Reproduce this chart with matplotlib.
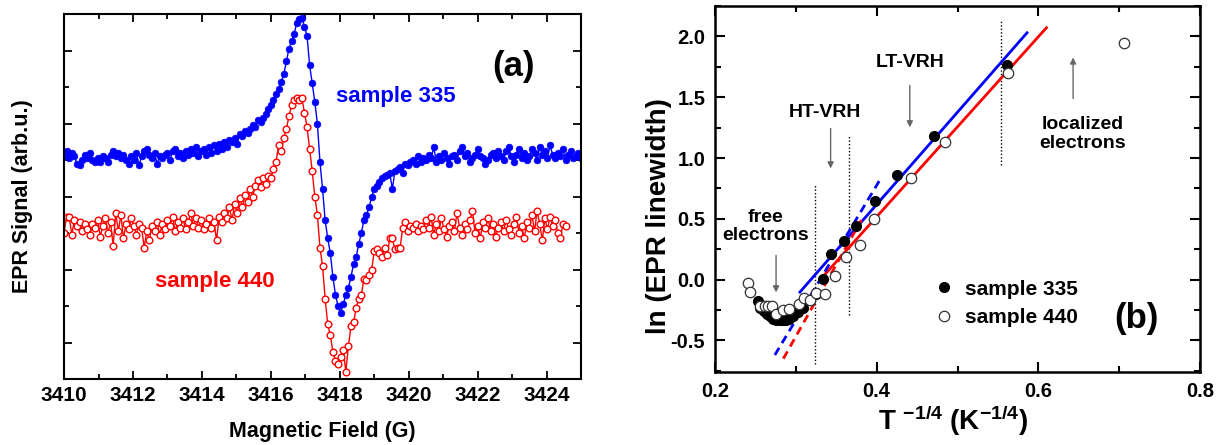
import numpy as np
import matplotlib
matplotlib.use('Agg')
import matplotlib.pyplot as plt
from matplotlib.ticker import FixedLocator, MultipleLocator, NullFormatter

plt.rcParams['font.family'] = ['Liberation Sans', 'DejaVu Sans']
plt.rcParams['font.weight'] = 'bold'
plt.rcParams['mathtext.fontset'] = 'custom'
plt.rcParams['mathtext.rm'] = 'Liberation Sans:bold'
plt.rcParams['mathtext.it'] = 'Liberation Sans:bold'
plt.rcParams['mathtext.bf'] = 'Liberation Sans:bold'
plt.rcParams['mathtext.default'] = 'rm'

# ---- (a) EPR spectra, field sweep from 3410 G in 0.075 G steps ----
field_start, field_step = 3410.0, 0.075

epr_335 = [
    6.15, 6.25, 6.05, 6.20, 6.10, 5.90, 5.85, 6.00, 6.15, 6.05,
    6.20, 6.00, 5.95, 6.05, 5.95, 6.10, 6.05, 5.95, 6.15, 6.25,
    6.10, 6.20, 6.05, 6.15, 6.00, 5.90, 6.10, 6.00, 6.20, 5.85,
    6.10, 6.25, 6.30, 6.15, 6.05, 6.20, 5.90, 6.10, 6.05, 6.15,
    6.20, 6.00, 6.25, 6.30, 6.10, 6.20, 6.05, 6.25, 6.15, 6.30,
    6.20, 6.35, 6.10, 6.25, 6.30, 6.15, 6.35, 6.20, 6.40, 6.25,
    6.45, 6.30, 6.50, 6.35, 6.55, 6.50, 6.60, 6.45, 6.70, 6.65,
    6.80, 6.75, 6.85, 6.95, 6.90, 7.10, 7.05, 7.15, 7.25, 7.40,
    7.50, 7.65, 7.80, 7.95, 8.15, 8.35, 8.70, 9.05, 9.25, 9.45,
    9.75, 9.85, 9.90, 9.65, 9.40, 8.60, 8.10, 7.60, 7.00, 5.95,
    5.20, 4.35, 3.85, 3.45, 2.80, 2.30, 2.00, 1.80, 2.05, 2.30,
    2.50, 2.80, 3.15, 3.35, 3.70, 4.00, 4.35, 4.50, 4.70, 5.00,
    5.20, 5.30, 5.40, 5.50, 5.55, 5.60, 5.65, 5.20, 5.70, 5.75,
    5.80, 5.65, 5.90, 5.85, 5.95, 6.00, 5.90, 6.10, 5.95, 6.05,
    6.00, 6.15, 6.05, 6.35, 5.95, 6.10, 6.00, 6.20, 6.05, 5.90,
    6.10, 6.15, 6.00, 6.25, 6.35, 6.10, 6.20, 5.95, 6.05, 6.15,
    6.30, 6.10, 6.05, 5.90, 6.00, 6.15, 6.20, 6.05, 6.25, 6.10,
    6.00, 6.25, 6.35, 6.10, 5.95, 6.15, 6.30, 6.05, 6.20, 6.00,
    6.10, 6.30, 6.20, 6.00, 6.35, 6.15, 6.25, 6.05, 6.40, 6.15,
    6.05, 6.20, 6.10, 6.30, 6.00, 6.15, 6.25, 6.05, 6.10, 6.20,
    6.05,
]

epr_440 = [
    4.00, 4.45, 4.45, 3.95, 4.35, 4.20, 4.30, 4.05, 4.25, 4.10,
    3.95, 4.25, 4.15, 4.35, 3.90, 4.20, 4.40, 4.00, 4.30, 3.65,
    4.55, 4.05, 4.50, 3.85, 4.25, 4.10, 4.40, 4.20, 3.95, 4.25,
    4.15, 3.60, 4.05, 3.80, 4.20, 4.05, 4.30, 3.95, 4.25, 4.10,
    4.35, 4.20, 4.45, 4.05, 4.30, 4.15, 4.40, 4.10, 4.30, 4.55,
    4.20, 4.40, 4.15, 4.35, 4.10, 4.25, 4.40, 4.15, 4.30, 3.80,
    4.45, 4.30, 4.55, 4.40, 4.70, 4.35, 4.80, 4.55, 4.95, 4.70,
    5.05, 4.85, 5.20, 5.00, 5.30, 5.45, 5.25, 5.50, 5.35, 5.55,
    5.50, 5.75, 5.95, 6.40, 6.25, 6.60, 6.85, 7.20, 7.50, 7.65,
    7.70, 7.65, 7.70, 7.30, 6.90, 6.30, 5.70, 5.00, 4.50, 3.60,
    3.10, 2.20, 1.50, 1.20, 0.75, 0.50, 0.40, 0.60, 0.80, 0.20,
    0.90, 1.45, 1.55, 1.95, 2.20, 2.30, 2.75, 2.70, 2.85, 3.00,
    3.50, 3.55, 3.45, 3.35, 3.60, 3.40, 3.85, 3.85, 3.55, 3.60,
    3.60, 4.15, 4.30, 4.05, 4.20, 4.15, 4.25, 4.05, 4.20, 4.10,
    4.35, 4.15, 4.45, 3.95, 4.25, 4.05, 4.40, 4.10, 3.90, 4.20,
    4.30, 4.05, 4.55, 4.15, 3.95, 4.25, 4.10, 4.35, 4.60, 4.00,
    4.20, 3.85, 4.30, 4.15, 4.40, 4.05, 4.25, 3.90, 4.15, 4.30,
    4.05, 4.35, 4.10, 3.95, 4.25, 4.45, 4.00, 4.20, 3.85, 4.30,
    4.15, 4.50, 4.05, 4.60, 4.25, 3.80, 4.40, 4.10, 4.45, 4.20,
    4.35, 4.00, 3.85, 4.25, 4.20,
]

field_335 = field_start + field_step * np.arange(len(epr_335))
field_440 = field_start + field_step * np.arange(len(epr_440))

# ---- (b) ln(linewidth) vs T^-1/4 ----
invT_335 = [0.253, 0.256, 0.260, 0.264, 0.268, 0.272, 0.276, 0.280, 0.284,
            0.288, 0.292, 0.297, 0.303, 0.309, 0.318, 0.325, 0.334, 0.344,
            0.360, 0.375, 0.398, 0.425, 0.471, 0.561]
lnw_335 = [-0.18, -0.23, -0.26, -0.28, -0.30, -0.32, -0.33, -0.335, -0.33,
           -0.33, -0.32, -0.30, -0.27, -0.23, -0.17, -0.115, 0.005, 0.213,
           0.317, 0.44, 0.643, 0.863, 1.18, 1.767]

invT_440 = [0.241, 0.243, 0.256, 0.262, 0.266, 0.271, 0.276, 0.284, 0.292,
            0.304, 0.310, 0.318, 0.325, 0.336, 0.348, 0.362, 0.379, 0.397,
            0.443, 0.485, 0.563, 0.706]
lnw_440 = [-0.03, -0.10, -0.22, -0.22, -0.22, -0.22, -0.285, -0.25, -0.245,
           -0.20, -0.155, -0.17, -0.11, -0.115, 0.03, 0.185, 0.285, 0.50,
           0.833, 1.131, 1.698, 1.945]

# linear fits: (slope, intercept, x_from, x_to)
fit_lt_335 = (7.59, -2.418, 0.305, 0.586)
fit_lt_440 = (7.40, -2.443, 0.330, 0.610)
fit_ht_335 = (11.08, -3.656, 0.274, 0.404)
fit_ht_440 = (11.81, -4.010, 0.2845, 0.381)

# region boundaries: (x, y_from, y_to)
boundaries = [(0.3237, -0.69, 0.775), (0.3658, -0.294, 1.186), (0.5538, 0.939, 2.13)]

BLUE = '#0000ff'
RED = '#ff0000'

fig = plt.figure(figsize=(12.29, 4.45), dpi=100)
ax1 = fig.add_axes([0.0521, 0.1483, 0.4207, 0.8202])
ax2 = fig.add_axes([0.5818, 0.1640, 0.3946, 0.8225])

# ---------- panel (a) ----------
ax1.plot(field_335, epr_335, '-o', color=BLUE, lw=1.0, ms=4.8, mec=BLUE, mfc=BLUE, mew=0.5)
ax1.plot(field_440, epr_440, '-o', color=RED, lw=1.0, ms=4.8, mec=RED, mfc='white', mew=1.0)
ax1.set_xlim(3410, 3425)
ax1.set_ylim(0, 10)
ax1.xaxis.set_major_locator(MultipleLocator(2))
ax1.xaxis.set_minor_locator(MultipleLocator(1))
ax1.yaxis.set_major_locator(FixedLocator([1, 3, 5, 7, 9]))
ax1.yaxis.set_minor_locator(FixedLocator([2, 4, 6, 8]))
ax1.yaxis.set_major_formatter(NullFormatter())
ax1.tick_params(which='both', direction='in', top=True, right=True, width=1.3)
ax1.tick_params(which='major', length=6, labelsize=15, pad=5)
ax1.tick_params(which='minor', length=3.5)
for s in ax1.spines.values():
    s.set_linewidth(1.5)
ax1.set_xlabel('Magnetic Field (G)', fontsize=15.5, fontweight='bold')
ax1.set_ylabel('EPR Signal (arb.u.)', fontsize=15.5, fontweight='bold')
ax1.xaxis.set_label_coords(0.5, -0.115)
ax1.yaxis.set_label_coords(-0.06, 0.5)
ax1.text(3419.62, 7.75, 'sample 335', color=BLUE, fontsize=16, fontweight='bold',
         ha='center', va='center')
ax1.text(3414.36, 2.68, 'sample 440', color=RED, fontsize=16, fontweight='bold',
         ha='center', va='center')
ax1.text(3423.03, 8.55, '(a)', fontsize=25, fontweight='bold', ha='center', va='center')

# ---------- panel (b) ----------
for x, y0, y1 in boundaries:
    ax2.plot([x, x], [y0, y1], color='black', lw=1.0, ls=(0, (1, 1.5)))

for (k, b, x0, x1), col, ls in [(fit_lt_335, BLUE, '-'), (fit_lt_440, RED, '-'),
                                (fit_ht_335, BLUE, (0, (3, 2))), (fit_ht_440, RED, (0, (3, 2)))]:
    xs = np.array([x0, x1])
    ax2.plot(xs, k * xs + b, color=col, lw=2.0, ls=ls, zorder=2)

ax2.plot(invT_335, lnw_335, 'o', color='black', ms=7, mec='black', label='sample 335', zorder=3)
ax2.plot(invT_440, lnw_440, 'o', ms=7.5, mfc='white', mec='#333333', mew=0.9,
         label='sample 440', zorder=3)

ax2.set_xlim(0.2, 0.8)
ax2.set_ylim(-0.76, 2.25)
ax2.xaxis.set_major_locator(MultipleLocator(0.2))
ax2.xaxis.set_minor_locator(MultipleLocator(0.1))
ax2.yaxis.set_major_locator(MultipleLocator(0.5))
ax2.yaxis.set_minor_locator(MultipleLocator(0.25))
ax2.xaxis.set_major_formatter(plt.FuncFormatter(lambda v, p: f'{v:.1f}'))
ax2.yaxis.set_major_formatter(plt.FuncFormatter(lambda v, p: f'{v:.1f}'))
ax2.tick_params(which='both', direction='in', top=True, right=True, width=1.5)
ax2.tick_params(which='major', length=7, labelsize=14.5, pad=7)
ax2.tick_params(which='minor', length=4)
for s in ax2.spines.values():
    s.set_linewidth(1.8)
ax2.set_xlabel(r'T $^{-1/4}$ (K$^{-1/4}$)', fontsize=20, fontweight='bold')
ax2.set_ylabel('ln (EPR linewidth)', fontsize=20, fontweight='bold')
ax2.xaxis.set_label_coords(0.49, -0.085)
ax2.yaxis.set_label_coords(-0.089, 0.426)

arrow = dict(arrowstyle='-|>', color='0.4', lw=1.0, mutation_scale=9, shrinkA=0, shrinkB=0)
ax2.text(0.441, 1.786, 'LT-VRH', fontsize=14, fontweight='bold', ha='center', va='center')
ax2.annotate('', xy=(0.441, 1.252), xytext=(0.441, 1.597), arrowprops=arrow)
ax2.text(0.336, 1.375, 'HT-VRH', fontsize=14, fontweight='bold', ha='center', va='center')
ax2.annotate('', xy=(0.343, 0.914), xytext=(0.343, 1.243), arrowprops=arrow)
ax2.text(0.263, 0.437, 'free\nelectrons', fontsize=14, fontweight='bold', ha='center',
         va='center', linespacing=1.1)
ax2.annotate('', xy=(0.2755, -0.105), xytext=(0.2755, 0.199), arrowprops=arrow)
ax2.text(0.655, 1.194, 'localized\nelectrons', fontsize=14, fontweight='bold', ha='center',
         va='center', linespacing=1.15)
ax2.annotate('', xy=(0.643, 1.827), xytext=(0.643, 1.49), arrowprops=arrow)
ax2.text(0.721, -0.319, '(b)', fontsize=25, fontweight='bold', ha='center', va='center')

ax2.legend(loc='upper left', bbox_to_anchor=(0.43, 0.275), frameon=False, fontsize=15,
           handletextpad=0.4, labelspacing=0.45, handlelength=1.2, borderaxespad=0)

fig.savefig('out.png', dpi=100)
